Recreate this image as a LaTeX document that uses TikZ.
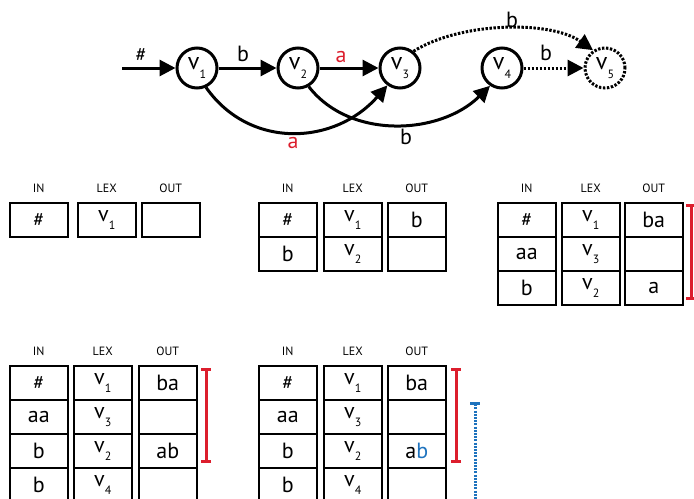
\documentclass[tikz,border=0pt]{standalone}
\usepackage{fontspec}
\setmainfont{PT Sans}
\usetikzlibrary{arrows.meta}
\definecolor{myred}{RGB}{220,30,45}
\definecolor{myblue}{RGB}{30,115,190}
\newcommand\vsub[1]{v\raisebox{-0.75ex}{\fontsize{6}{6}\selectfont #1}}
\newcommand\hsh{{\fontsize{10}{10}\selectfont\#}}
\newcommand\trow[8]{%
  \node[cell] (#1i) at (#3,#2) {#6};
  \node[cell] (#1l) at (#4,#2) {#7};
  \node[cell] (#1o) at (#5,#2) {#8};}
\newcommand\thdr[1]{%
  \node[hdr] (#1hi) at ([yshift=7pt]#1i.north) {IN};
  \node[hdr] (#1hl) at ([yshift=7pt]#1l.north) {LEX};
  \node[hdr] (#1ho) at ([yshift=7pt]#1o.north) {OUT};}
\begin{document}
\begin{tikzpicture}[x=0.5pt,y=-0.5pt,
  state/.style={circle,draw,line width=1.5pt,minimum size=20pt,inner sep=0pt,font=\fontsize{12}{12}\selectfont},
  ghost/.style={state,dash pattern=on 1.2pt off 0.8pt},
  edge/.style={line width=1.5pt,-{Triangle[length=8pt,width=8pt]}},
  dedge/.style={edge,dash pattern=on 1.2pt off 0.8pt},
  lbl/.style={font=\fontsize{11}{12}\selectfont,inner sep=0pt},
  cell/.style={draw,line width=0.75pt,minimum width=29pt,minimum height=17pt,inner sep=0pt,anchor=north west,font=\fontsize{11}{12}\selectfont},
  hdr/.style={font=\fontsize{6}{7}\selectfont,inner sep=0pt},
  redbar/.style={myred,line width=1.5pt,{Bar[width=5pt]}-{Bar[width=5pt]}},
  bluebar/.style={myblue,line width=1.5pt,dash pattern=on 1pt off 0.6pt,{Bar[width=5pt]}-{Bar[width=5pt]}}]
\useasboundingbox (0,0) rectangle (694,498);
% graph
\node[state] (v1) at (197,68) {\vsub{1}};
\node[state] (v2) at (298,68) {\vsub{2}};
\node[state] (v3) at (400,68) {\vsub{3}};
\node[state] (v4) at (502,68) {\vsub{4}};
\node[ghost] (v5) at (605,68) {\vsub{5}};
\coordinate (start) at (122,68);
\draw[edge] (start) -- (v1);
\draw[edge] (v1) -- (v2);
\draw[edge] (v2) -- (v3);
\draw[dedge] (v4) -- (v5);
\draw[edge] (v1.-65) .. controls (250,150) and (335,145) .. (v3.-126);
\draw[edge] (v2.-60) .. controls (350,140) and (440,135) .. (v4.-124);
\draw[dedge] (v3.51) .. controls (460,22) and (550,20) .. (v5.124);
\node[lbl] (l1) at (141,55) {\hsh};
\node[lbl] (l2) at (243,54) {b};
\node[lbl,text=myred] (l3) at (341,57) {a};
\node[lbl,text=myred] (l4) at (293,143) {a};
\node[lbl] (l5) at (406,137) {b};
\node[lbl] (l6) at (512,20) {b};
\node[lbl] (l7) at (546,53) {b};
% table 1
\trow{a1}{202}{9}{77}{141}{\hsh}{\vsub{1}}{}
\thdr{a1}
% table 2
\trow{b1}{202}{258}{323}{387}{\hsh}{\vsub{1}}{b}
\trow{b2}{236}{258}{323}{387}{b}{\vsub{2}}{}
\thdr{b1}
% table 3
\trow{c1}{202}{497}{561}{624}{\hsh}{\vsub{1}}{ba}
\trow{c2}{236}{497}{561}{624}{aa}{\vsub{3}}{}
\trow{c3}{270}{497}{561}{624}{b}{\vsub{2}}{a}
\thdr{c1}
\coordinate (c3t) at (691,204);
\coordinate (c3b) at (691,300);
\draw[redbar] (c3t) -- (c3b);
% table 4
\trow{d1}{365}{9}{73}{138}{\hsh}{\vsub{1}}{ba}
\trow{d2}{399}{9}{73}{138}{aa}{\vsub{3}}{}
\trow{d3}{433}{9}{73}{138}{b}{\vsub{2}}{ab}
\trow{d4}{467}{9}{73}{138}{b}{\vsub{4}}{}
\thdr{d1}
\coordinate (d4t) at (206,368);
\coordinate (d4b) at (206,463);
\draw[redbar] (d4t) -- (d4b);
% table 5
\trow{e1}{365}{258}{323}{387}{\hsh}{\vsub{1}}{ba}
\trow{e2}{399}{258}{323}{387}{aa}{\vsub{3}}{}
\trow{e3}{433}{258}{323}{387}{b}{\vsub{2}}{a\textcolor{myblue}{b}}
\trow{e4}{467}{258}{323}{387}{b}{\vsub{4}}{}
\thdr{e1}
\coordinate (e5t) at (456,368);
\coordinate (e5b) at (456,463);
\draw[redbar] (e5t) -- (e5b);
\coordinate (e6t) at (475,402);
\coordinate (e6b) at (475,530);
\draw[bluebar] (e6t) -- (e6b);
\end{tikzpicture}
\end{document}
